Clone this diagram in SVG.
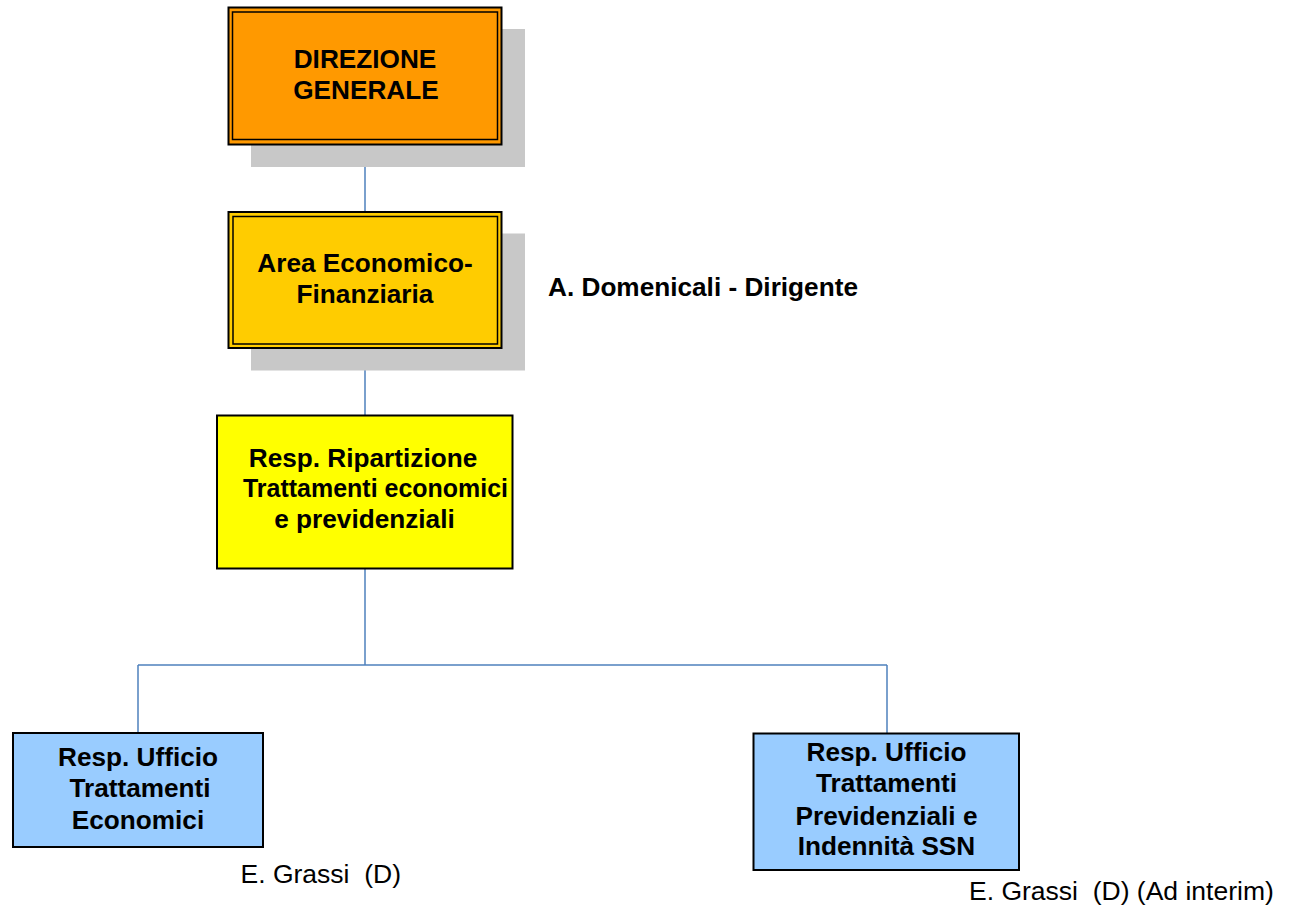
<svg xmlns="http://www.w3.org/2000/svg" width="1289" height="918" viewBox="0 0 1289 918">
<style>
.b{font-family:"Liberation Sans",Arial,sans-serif;font-weight:bold;font-size:26.2px;fill:#000;text-anchor:middle}
.r{font-family:"Liberation Sans",Arial,sans-serif;font-size:26.5px;fill:#000}
.sh{fill:#C8C8C8}
.ob{stroke:#000;stroke-width:2}
.ib{fill:none;stroke:#000;stroke-width:1.5}
.c{fill:none;stroke:#4F81BD;stroke-width:1.5}
</style>
<rect width="1289" height="918" fill="#fff"/>
<g id="connectors">
<path class="c" d="M365 145V212M365 348V415M365 569V665M138 665H887M138 665V733M887 665V733"/>
</g>
<g id="direzione-generale">
<rect class="sh" x="251" y="29" width="274" height="138"/>
<rect class="ob" x="228.5" y="7.5" width="273" height="137" fill="#FF9900"/>
<rect class="ib" x="232.5" y="12" width="265" height="127.5"/>
<text class="b" x="365" y="68">DIREZIONE</text>
<text class="b" x="366" y="98.5">GENERALE</text>
</g>
<g id="area-economico-finanziaria">
<rect class="sh" x="251" y="233.5" width="274" height="137"/>
<rect class="ob" x="228.5" y="212" width="273" height="136" fill="#FFCC00"/>
<rect class="ib" x="233" y="216.5" width="264.5" height="127.5"/>
<text class="b" x="365" y="271.5">Area Economico-</text>
<text class="b" x="365" y="302.5">Finanziaria</text>
</g>
<g id="dirigente-label">
<text class="b" x="548" y="296" style="text-anchor:start">A. Domenicali - Dirigente</text>
</g>
<g id="resp-ripartizione">
<rect class="ob" x="217" y="415.5" width="295.5" height="153" fill="#FFFF00"/>
<text class="b" x="363" y="466.5">Resp. Ripartizione</text>
<text class="b" x="243" y="496.5" style="text-anchor:start" textLength="265" lengthAdjust="spacingAndGlyphs">Trattamenti economici</text>
<text class="b" x="364.5" y="528">e previdenziali</text>
</g>
<g id="ufficio-economici">
<rect class="ob" x="13" y="733" width="250" height="114" fill="#99CCFF"/>
<text class="b" x="138" y="765.5">Resp. Ufficio</text>
<text class="b" x="140" y="797">Trattamenti</text>
<text class="b" x="138" y="829">Economici</text>
<text class="r" x="240.5" y="883" xml:space="preserve">E. Grassi  (D)</text>
</g>
<g id="ufficio-previdenziali">
<rect class="ob" x="753.5" y="733.5" width="265.5" height="136.5" fill="#99CCFF"/>
<text class="b" x="886.5" y="760.5">Resp. Ufficio</text>
<text class="b" x="886.5" y="791.5">Trattamenti</text>
<text class="b" x="886.5" y="824.5">Previdenziali e</text>
<text class="b" x="886.5" y="855">Indennità SSN</text>
<text class="r" x="969" y="900" xml:space="preserve">E. Grassi  (D) (Ad interim)</text>
</g>
</svg>
